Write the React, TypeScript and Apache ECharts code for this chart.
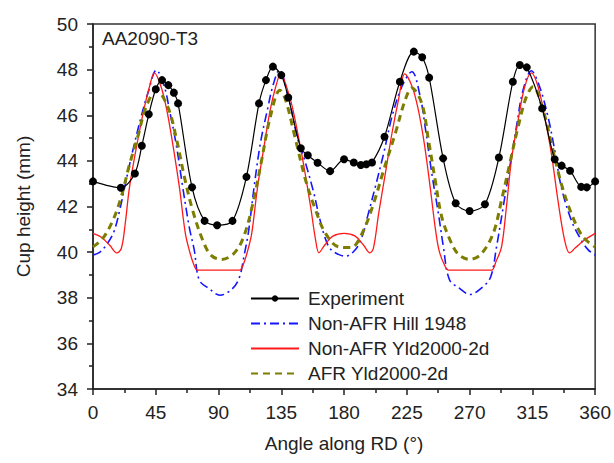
import React, { useEffect, useRef } from "react";
import * as echarts from "echarts";

const xTicks = [0, 45, 90, 135, 180, 225, 270, 315, 360];
const yTicks = [34, 36, 38, 40, 42, 44, 46, 48, 50];

const seriesNames = ["Experiment", "Non-AFR Hill 1948", "Non-AFR Yld2000-2d", "AFR Yld2000-2d"];

const experiment: [number, number][] = [
  [0, 43.1], [20, 42.82], [30, 43.45], [35, 44.66], [40, 46.04], [45, 47.14], [49.5, 47.54],
  [54, 47.32], [58, 46.99], [61, 46.52], [71, 42.84], [80, 41.37], [89, 41.18], [100, 41.37],
  [110, 43.3], [119, 46.52], [124, 47.54], [129, 48.13], [135, 47.76], [140, 46.78], [149, 44.55],
  [154, 44.25], [161, 43.92], [170, 43.55], [180, 44.07], [187, 43.93], [192, 43.82], [196, 43.85],
  [200, 43.93], [209, 45.06], [220, 47.47], [230, 48.79], [236, 48.54], [241, 47.65], [251, 44.11],
  [260, 42.14], [270, 41.8], [281, 42.1], [291, 44.15], [301, 47.47], [306, 48.2], [311, 48.1],
  [322, 46.3], [331, 44.07], [336, 43.79], [342, 43.57], [350, 42.86], [354, 42.84], [360, 43.1],
];

const hill1948: [number, number][] = [
  [0, 39.87], [5, 40.0], [10, 40.35], [15, 40.9], [19, 41.8], [23.8, 43.16], [28.6, 44.47],
  [34.5, 45.93], [39.3, 46.96], [45.5, 47.98], [51.2, 47.25], [54.8, 46.23], [59.5, 44.77],
  [64.3, 42.86], [69, 41.1], [72.6, 40.09], [76.2, 38.77], [83.3, 38.4], [91, 38.11], [100, 38.4],
  [105, 38.9], [108.5, 39.9], [111.5, 40.9], [115.5, 42.86], [120, 44.77], [125, 46.23],
  [129, 47.3], [133.5, 47.98], [140.5, 46.67], [146.4, 45.06], [152.4, 43.9], [158.4, 42.57],
  [162, 41.6], [166, 40.7], [170, 40.15], [176, 39.9], [181, 39.82], [188, 40.1], [193, 40.7],
  [197, 41.6], [202.4, 42.86], [208.4, 44.33], [214.3, 45.93], [221.4, 47.25], [228.6, 47.91],
  [234.6, 46.81], [238.1, 45.5], [242.9, 43.45], [247.6, 41.7], [251.2, 40.23], [255.5, 38.8],
  [263, 38.4], [270.3, 38.14], [278, 38.4], [285, 38.9], [289.3, 40.23], [294.1, 41.99],
  [298.8, 43.74], [303.6, 45.5], [308.3, 47.1], [314.3, 47.95], [320.2, 47.25], [326.2, 45.93],
  [331, 44.47], [335.7, 42.86], [342.9, 41.4], [350, 40.53], [355, 40.1], [360, 39.87],
];

const yld2000: [number, number][] = [
  [0, 40.82], [6, 40.65], [12, 40.3], [17, 39.97], [20.3, 40.16], [23, 41.2], [26.2, 42.86],
  [32.1, 44.91], [36.9, 46.37], [40.5, 47.25], [44, 47.86], [48.8, 47.25], [52.9, 46.23],
  [57.1, 44.77], [61.9, 42.86], [66.2, 40.82], [69, 40.09], [72, 39.5], [75, 39.21], [82, 39.21],
  [90, 39.21], [98, 39.21], [105, 39.21], [108, 39.5], [111, 40.09], [113.8, 40.82],
  [118, 42.86], [123, 44.77], [127, 46.23], [131, 47.25], [134.6, 47.81], [138.5, 47.3],
  [142.9, 46.37], [150, 44.18], [156, 41.99], [159.6, 40.53], [162, 39.97], [166, 40.3],
  [172, 40.7], [180, 40.82], [188, 40.7], [194, 40.3], [198.5, 39.97], [201, 40.16],
  [204.8, 41.7], [209.6, 43.45], [214.3, 45.2], [219, 46.67], [223.5, 47.81], [228.8, 47.25],
  [233, 46.3], [237.5, 44.77], [241.7, 42.86], [245.5, 41.0], [248, 40.1], [251.5, 39.5],
  [255, 39.21], [262, 39.21], [270, 39.21], [278, 39.21], [285.7, 39.21], [289, 39.6],
  [292.9, 40.23], [296.4, 41.99], [300, 44.04], [304.8, 45.79], [309.5, 47.25], [314.3, 47.86],
  [319.1, 47.25], [323.8, 45.93], [328.6, 44.33], [333.3, 42.28], [338.1, 40.53], [341.7, 39.97],
  [346, 40.2], [352.4, 40.53], [360, 40.82],
];

const afrYld2000: [number, number][] = [
  [0, 40.23], [7, 40.6], [14.3, 41.4], [20.3, 42.43], [26, 43.8], [32.1, 45.06], [38.1, 46.37],
  [45.5, 47.1], [53.6, 46.37], [59.5, 45.06], [65.5, 43.3], [71.4, 41.84], [78.6, 40.53],
  [84.5, 39.87], [92, 39.68], [101, 39.94], [108, 40.67], [114.5, 42.1], [120.5, 43.9],
  [127, 45.9], [134, 47.1], [138.1, 46.67], [145.3, 44.91], [152.4, 43.16], [159.6, 41.84],
  [166.7, 40.82], [176.2, 40.23], [185, 40.2], [192.9, 40.82], [201.2, 42.14], [208.4, 43.6],
  [216.7, 45.2], [223.8, 46.67], [228.5, 47.2], [235.7, 46.52], [240.5, 44.91], [245.3, 43.16],
  [250, 41.55], [256, 40.53], [262, 39.9], [270, 39.68], [278, 39.9], [286.9, 40.82],
  [292.9, 42.28], [298.8, 43.89], [304.8, 45.5], [310.7, 46.81], [315.5, 47.25], [322.6, 46.23],
  [328.6, 44.77], [335.7, 43.01], [342.9, 41.7], [351.2, 40.67], [360, 40.23],
];

const FONT = "'Liberation Sans', Arial, Helvetica, sans-serif";
const hidden = { opacity: 0, color: "rgba(0,0,0,0)", borderWidth: 0 };

export default function App() {
  const ref = useRef<HTMLDivElement>(null);
  useEffect(() => {
    if (!ref.current) return;
    const chart = echarts.init(ref.current, undefined, { renderer: "svg" });
    const axisColor = "#222";
    chart.setOption({
      animation: false,
      backgroundColor: "#fff",
      textStyle: { fontFamily: FONT },
      grid: {
        left: 93, right: 17, top: 24, bottom: 74,
        show: true, borderColor: "#333", borderWidth: 1.5, backgroundColor: "transparent",
      },
      graphic: [
        {
          type: "text", left: 102, top: 29,
          style: { text: "AA2090-T3", fontSize: 19, fontFamily: FONT, fill: "#222" },
        },
      ],
      legend: {
        data: [
          { name: seriesNames[0] },
          { name: seriesNames[1], itemStyle: hidden },
          { name: seriesNames[2], itemStyle: hidden },
          { name: seriesNames[3], itemStyle: hidden },
        ],
        orient: "vertical",
        left: 245, top: 284,
        itemWidth: 48, itemHeight: 8, itemGap: 6,
        textStyle: { fontSize: 19, fontFamily: FONT, color: "#222", padding: [0, 0, 0, 4], lineHeight: 19 },
      },
      xAxis: {
        type: "value", min: xTicks[0], max: xTicks[xTicks.length - 1], interval: 45,
        name: "Angle along RD (°)", nameLocation: "middle", nameGap: 45,
        nameTextStyle: { fontSize: 19, fontFamily: FONT, color: "#222" },
        axisLine: { lineStyle: { color: axisColor, width: 1.5 } },
        axisTick: { show: true, length: 6, lineStyle: { color: axisColor, width: 1.5 } },
        minorTick: { show: true, splitNumber: 2, length: 4, lineStyle: { color: axisColor, width: 1.5 } },
        axisLabel: { fontSize: 19, fontFamily: FONT, color: "#222", margin: 14 },
        splitLine: { show: false },
      },
      yAxis: {
        type: "value", min: yTicks[0], max: yTicks[yTicks.length - 1], interval: 2,
        name: "Cup height (mm)", nameLocation: "middle", nameGap: 60,
        nameTextStyle: { fontSize: 19, fontFamily: FONT, color: "#222" },
        axisLine: { show: true, lineStyle: { color: axisColor, width: 1.5 } },
        axisTick: { show: true, length: 6, lineStyle: { color: axisColor, width: 1.5 } },
        minorTick: { show: true, splitNumber: 2, length: 4, lineStyle: { color: axisColor, width: 1.5 } },
        axisLabel: { fontSize: 19, fontFamily: FONT, color: "#222", margin: 15 },
        splitLine: { show: false },
      },
      series: [
        {
          name: seriesNames[1], type: "line", data: hill1948, smooth: 0.35, symbol: "none",
          lineStyle: { color: "#1515ff", width: 1.6, type: [9, 4, 2, 4] }, itemStyle: hidden, z: 2,
        },
        {
          name: seriesNames[2], type: "line", data: yld2000, smooth: 0.35, symbol: "none",
          lineStyle: { color: "#ff1a1a", width: 1.3 }, itemStyle: hidden, z: 3,
        },
        {
          name: seriesNames[3], type: "line", data: afrYld2000, smooth: 0.35, symbol: "none",
          lineStyle: { color: "#7d7d00", width: 3, type: [7, 5] }, itemStyle: hidden, z: 4,
        },
        {
          name: seriesNames[0], type: "line", data: experiment, smooth: 0.3,
          symbol: "circle", symbolSize: 8,
          lineStyle: { color: "#000", width: 1.2 }, itemStyle: { color: "#000" }, z: 5,
        },
      ],
    });
    return () => chart.dispose();
  }, []);
  return <div ref={ref} style={{ width: 614, height: 463, position: "absolute", left: 0, top: 0 }} />;
}
